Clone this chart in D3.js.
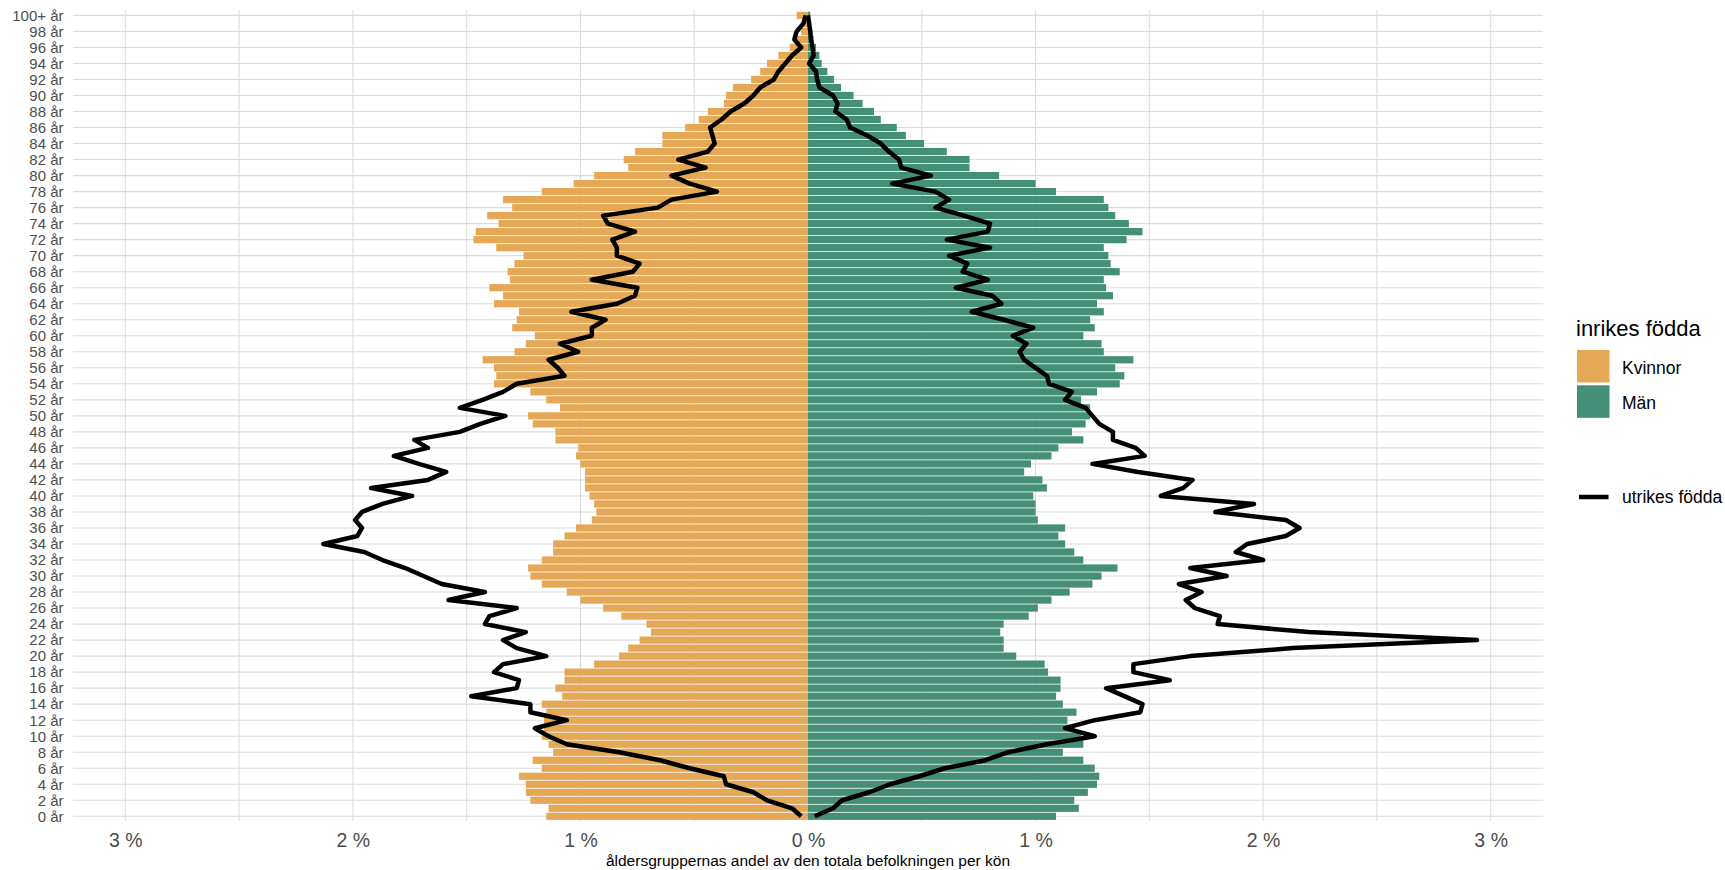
<!DOCTYPE html>
<html>
<head>
<meta charset="utf-8">
<script src="https://cdn.jsdelivr.net/npm/d3@7"></script>
<style>
  body { margin: 0; background: #fff; }
  svg { display: block; font-family: 'Liberation Sans', Arial, sans-serif; }
</style>
</head>
<body>
<svg width="1725" height="870"></svg>
<script>
// ålder 0..100+, andel (%) av respektive köns totala befolkning
const ages = d3.range(0, 101)
const ageLabels = ages.map(a => a === 100 ? '100+ år' : a + ' år')

const kvinnorInrikes = [
  1.15, 1.14, 1.22, 1.24, 1.24, 1.27, 1.17, 1.21, 1.12, 1.14,
  1.17, 1.16, 1.16, 1.15, 1.17, 1.08, 1.11, 1.07, 1.07, 0.94,
  0.83, 0.79, 0.74, 0.69, 0.71, 0.82, 0.90, 1.00, 1.06, 1.17,
  1.22, 1.23, 1.17, 1.12, 1.12, 1.07, 1.02, 0.95, 0.93, 0.94,
  0.96, 0.98, 0.98, 0.98, 1.00, 1.02, 1.01, 1.11, 1.11, 1.21,
  1.23, 1.09, 1.15, 1.22, 1.38, 1.37, 1.38, 1.43, 1.29, 1.24,
  1.20, 1.30, 1.28, 1.27, 1.38, 1.34, 1.40, 1.31, 1.32, 1.29,
  1.25, 1.37, 1.47, 1.46, 1.36, 1.41, 1.30, 1.34, 1.17, 1.03,
  0.94, 0.79, 0.81, 0.76, 0.64, 0.64, 0.54, 0.48, 0.44, 0.37,
  0.36, 0.33, 0.25, 0.21, 0.18, 0.13, 0.08, 0.05, 0.03, 0.02,
  0.05
]
const manInrikes = [
  1.09, 1.19, 1.17, 1.23, 1.27, 1.28, 1.26, 1.21, 1.12, 1.21,
  1.20, 1.17, 1.14, 1.18, 1.12, 1.09, 1.11, 1.11, 1.055, 1.04,
  0.915, 0.86, 0.86, 0.845, 0.86, 0.97, 1.01, 1.07, 1.15, 1.25,
  1.29, 1.36, 1.21, 1.17, 1.13, 1.10, 1.13, 1.01, 1.00, 1.00,
  0.99, 1.05, 1.03, 0.95, 0.98, 1.07, 1.10, 1.21, 1.16, 1.22,
  1.24, 1.24, 1.20, 1.27, 1.37, 1.39, 1.35, 1.43, 1.30, 1.29,
  1.21, 1.26, 1.24, 1.30, 1.27, 1.34, 1.31, 1.30, 1.37, 1.33,
  1.32, 1.30, 1.40, 1.47, 1.41, 1.35, 1.32, 1.30, 1.09, 1.00,
  0.84, 0.71, 0.71, 0.61, 0.51, 0.43, 0.39, 0.32, 0.29, 0.24,
  0.20, 0.145, 0.115, 0.085, 0.06, 0.05, 0.035, 0.025, 0.015, 0.01,
  0.01
]
const kvinnorUtrikes = [
  0.03, 0.07, 0.18, 0.24, 0.36, 0.37, 0.52, 0.65, 0.83, 1.06,
  1.14, 1.20, 1.06, 1.22, 1.22, 1.48, 1.28, 1.27, 1.38, 1.34,
  1.15, 1.28, 1.34, 1.24, 1.42, 1.40, 1.28, 1.58, 1.42, 1.61,
  1.69, 1.77, 1.87, 1.95, 2.13, 1.98, 1.96, 1.99, 1.96, 1.87,
  1.74, 1.92, 1.67, 1.59, 1.71, 1.82, 1.67, 1.73, 1.53, 1.44,
  1.33, 1.53, 1.43, 1.34, 1.28, 1.07, 1.10, 1.14, 1.01, 1.09,
  0.95, 0.95, 0.89, 1.04, 0.84, 0.76, 0.75, 0.95, 0.77, 0.74,
  0.84, 0.84, 0.86, 0.76, 0.88, 0.90, 0.66, 0.60, 0.40, 0.52,
  0.60, 0.45, 0.57, 0.44, 0.41, 0.42, 0.43, 0.38, 0.34, 0.28,
  0.24, 0.21, 0.15, 0.13, 0.10, 0.07, 0.03, 0.06, 0.05, 0.02,
  0.01
]
const manUtrikes = [
  0.03, 0.11, 0.15, 0.27, 0.36, 0.49, 0.60, 0.78, 0.88, 1.05,
  1.26, 1.13, 1.26, 1.46, 1.47, 1.39, 1.31, 1.59, 1.43, 1.43,
  1.68, 2.13, 2.94, 2.20, 1.80, 1.81, 1.70, 1.66, 1.73, 1.63,
  1.84, 1.68, 2.00, 1.88, 1.93, 2.10, 2.16, 2.10, 1.79, 1.96,
  1.55, 1.65, 1.69, 1.45, 1.25, 1.48, 1.44, 1.34, 1.34, 1.28,
  1.25, 1.22, 1.13, 1.16, 1.06, 1.05, 1.00, 0.95, 0.93, 0.96,
  0.90, 0.99, 0.86, 0.72, 0.85, 0.81, 0.65, 0.79, 0.68, 0.70,
  0.62, 0.80, 0.61, 0.79, 0.80, 0.685, 0.56, 0.62, 0.56, 0.37,
  0.54, 0.41, 0.40, 0.355, 0.32, 0.26, 0.185, 0.17, 0.12, 0.13,
  0.11, 0.05, 0.04, 0.035, 0.005, 0.025, 0.02, 0.013, 0.01, 0.005,
  0
]
const xTicks = [-3, -2, -1, 0, 1, 2, 3]
const legendKeys = ['Kvinnor', 'Män']

const colKvinnor = '#E5A856'
const colMan = '#458F79'
const gridCol = '#DCDCDC'

const svg = d3.select('svg')
const panel = { left: 73, right: 1543, top: 10.6, bottom: 821.1 }

const x = d3.scaleLinear().domain([-3.23, 3.23]).range([panel.left, panel.right])
const y = d3.scalePoint().domain(ageLabels).range([panel.bottom, panel.top]).padding(0.6)
const barH = y.step() * 0.9

// rutnät
const grid = svg.append('g')
grid.selectAll('.vgrid')
  .data(d3.range(-3, 3.01, 0.5))
  .join('line')
  .attr('x1', d => x(d)).attr('x2', d => x(d))
  .attr('y1', panel.top).attr('y2', panel.bottom)
  .attr('stroke', gridCol).attr('stroke-width', 1.1)
grid.selectAll('.hgrid')
  .data(ageLabels.filter((d, i) => i % 2 === 0))
  .join('line')
  .attr('x1', panel.left).attr('x2', panel.right)
  .attr('y1', d => y(d)).attr('y2', d => y(d))
  .attr('stroke', gridCol).attr('stroke-width', 1.1)

// staplar, inrikes födda
const bars = svg.append('g')
bars.selectAll('.kv')
  .data(ages)
  .join('rect')
  .attr('x', i => x(-kvinnorInrikes[i]))
  .attr('width', i => x(0) - x(-kvinnorInrikes[i]))
  .attr('y', i => y(ageLabels[i]) - barH / 2)
  .attr('height', barH)
  .attr('fill', colKvinnor)
bars.selectAll('.man')
  .data(ages)
  .join('rect')
  .attr('x', x(0))
  .attr('width', i => x(manInrikes[i]) - x(0))
  .attr('y', i => y(ageLabels[i]) - barH / 2)
  .attr('height', barH)
  .attr('fill', colMan)

// linjer, utrikes födda
const lineKv = d3.line().x(i => x(-kvinnorUtrikes[i])).y(i => y(ageLabels[i]))
const lineMan = d3.line().x(i => x(manUtrikes[i])).y(i => y(ageLabels[i]))
svg.append('path').attr('d', lineKv(ages))
  .attr('fill', 'none').attr('stroke', '#000').attr('stroke-width', 4.5)
  .attr('stroke-linejoin', 'round').attr('stroke-linecap', 'butt')
svg.append('path').attr('d', lineMan(ages))
  .attr('fill', 'none').attr('stroke', '#000').attr('stroke-width', 4.5)
  .attr('stroke-linejoin', 'round').attr('stroke-linecap', 'butt')

// axlar
const yAxis = svg.append('g')
  .attr('transform', `translate(${panel.left},0)`)
  .call(d3.axisLeft(y).tickValues(ageLabels.filter((d, i) => i % 2 === 0)).tickSize(0).tickPadding(9.5))
yAxis.select('.domain').remove()
yAxis.selectAll('text')
  .attr('font-family', "'Liberation Sans', Arial, sans-serif")
  .attr('font-size', 15)
  .attr('fill', '#4D4D4D')

const xAxis = svg.append('g')
  .attr('transform', `translate(0,${panel.bottom})`)
  .call(d3.axisBottom(x).tickValues(xTicks).tickFormat(d => Math.abs(d) + ' %').tickSize(0).tickPadding(12))
xAxis.select('.domain').remove()
xAxis.selectAll('text')
  .attr('font-family', "'Liberation Sans', Arial, sans-serif")
  .attr('font-size', 19.5)
  .attr('fill', '#4D4D4D')

svg.append('text')
  .attr('x', x(0)).attr('y', 865.5)
  .attr('text-anchor', 'middle')
  .attr('font-size', 15.5)
  .attr('fill', '#000')
  .text('åldersgruppernas andel av den totala befolkningen per kön')

// legend
const legend = svg.append('g')
legend.append('text')
  .attr('x', 1576).attr('y', 336)
  .attr('font-size', 22)
  .text('inrikes födda')
legend.selectAll('.key')
  .data(legendKeys)
  .join('rect')
  .attr('x', 1577).attr('y', (d, i) => 350 + i * 35.3)
  .attr('width', 32.5).attr('height', 32.5)
  .attr('fill', (d, i) => i === 0 ? colKvinnor : colMan)
legend.selectAll('.lab')
  .data(legendKeys)
  .join('text')
  .attr('x', 1622).attr('y', (d, i) => 374.3 + i * 35)
  .attr('font-size', 17.5)
  .text(d => d)
legend.append('line')
  .attr('x1', 1579).attr('x2', 1608.5)
  .attr('y1', 497).attr('y2', 497)
  .attr('stroke', '#000').attr('stroke-width', 4.5)
legend.append('text')
  .attr('x', 1622).attr('y', 503.3)
  .attr('font-size', 17.5)
  .text('utrikes födda')
</script>
</body>
</html>
